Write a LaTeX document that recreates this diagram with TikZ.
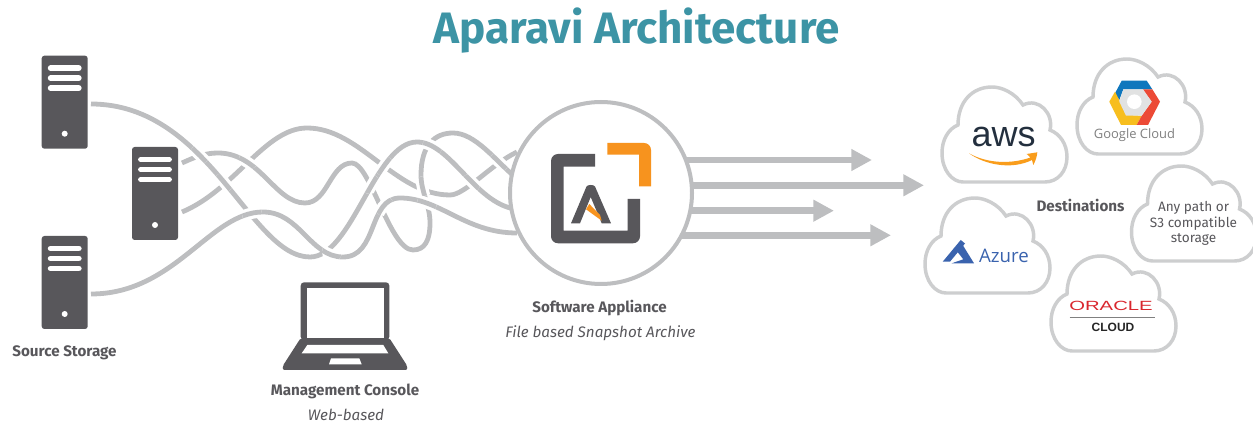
\documentclass[tikz,border=0pt]{standalone}
\usepackage{fontspec}
\setmainfont{Fira Sans}
\newfontfamily\lightfont{Open Sans}
\newfontfamily\arialfont{Liberation Sans}
\usetikzlibrary{arrows.meta,calc}
\definecolor{darkicon}{HTML}{58575B}
\definecolor{strandgray}{HTML}{BDBEC0}
\definecolor{cloudgray}{HTML}{CDCECF}
\definecolor{teal1}{HTML}{3D94A5}
\definecolor{orange1}{HTML}{F7931E}
\definecolor{awsdark}{HTML}{232F3E}
\definecolor{awsorange}{HTML}{F99D1C}
\definecolor{gblue}{HTML}{0F77BD}
\definecolor{gyellow}{HTML}{F7BE1E}
\definecolor{gred}{HTML}{EC4A36}
\definecolor{ggray}{HTML}{E1E2E2}
\definecolor{azureblue}{HTML}{3A63AE}
\definecolor{oraclered}{HTML}{D9272E}
\tikzset{
  strandline/.style={draw=strandgray,line width=3.6pt},
  strandhalo/.style={draw=white,line width=8.5pt},
  flow/.style={draw=strandgray,line width=5pt,-{Triangle[length=15.5pt,width=15.5pt]}},
  serverbox/.style={rectangle,fill=darkicon,rounded corners=2pt,minimum width=34.5pt,minimum height=69.75pt,inner sep=0pt,outer sep=0pt},
  hubnode/.style={circle,draw=strandgray,fill=white,line width=3pt,minimum size=136.5pt,inner sep=0pt},
  cloudline/.style={draw=cloudgray,line width=2.6pt,fill=white},
  boldlabel/.style={font=\bfseries\fontsize{11.4}{13}\selectfont,text=darkicon,inner sep=0pt},
  itlabel/.style={font=\itshape\fontsize{11.4}{13}\selectfont,text=darkicon,inner sep=0pt},
}
\newcommand\strandA{(91,104) .. controls (210,104) and (250,257) .. (310,257) .. controls (352,257) and (375,142) .. (417,142) .. controls (450,142) and (475,203) .. (515,209)}
\newcommand\strandB{(91,294) .. controls (175,294) and (210,212) .. (263,212) .. controls (300,212) and (310,257) .. (343,257) .. controls (378,257) and (368,198) .. (400,198) .. controls (440,198) and (465,233) .. (517,233)}
\newcommand\strandC{(182,163) .. controls (195,157) and (205,153) .. (218,153) .. controls (260,153) and (275,203) .. (305,203) .. controls (328,203) and (330,163) .. (352,163) .. controls (370,163) and (390,250) .. (413,250) .. controls (425,250) and (430,240) .. (430,223) .. controls (430,205) and (421,192) .. (421,175) .. controls (421,145) and (435,133) .. (453,133) .. controls (475,133) and (495,160) .. (515,177)}
\newcommand\strandD{(182,212) .. controls (235,190) and (265,128) .. (307,128) .. controls (360,128) and (395,195) .. (450,195) .. controls (465,195) and (490,165) .. (517,152)}
\newcommand\serverdetails[1]{%
  \begin{scope}[shift={(#1)}]
    \foreach \yy in {-34,-24,-14}{\draw[white,line width=4.4pt,line cap=round] (-14,\yy) -- (14,\yy);}
    \fill[white] (0,31.5) circle (3);
  \end{scope}}
\newcommand\cloudat[2]{%
  \begin{scope}[shift={(#1,#2)}]
    \draw[cloudline] (21,95) -- (103,95) .. controls (116,95) and (125,84) .. (125,70) .. controls (125,57) and (118,47) .. (108,43) .. controls (112,27) and (97,10) .. (81,18) .. controls (73,6) and (60,0) .. (50,0) .. controls (30,0) and (16,15) .. (16,38) .. controls (6,42) and (0,53) .. (0,66) .. controls (0,83) and (10,95) .. (21,95) -- cycle;
  \end{scope}}
\begin{document}
\begin{tikzpicture}[x=0.75pt,y=-0.75pt]
\useasboundingbox (0,0) rectangle (1253,423);
% title
\node[font=\bfseries\fontsize{33}{36}\selectfont,text=teal1,inner sep=0pt] (title) at (636.5,31) {Aparavi Architecture};
% strands
\draw[strandline] \strandA;
\draw[strandline] \strandB;
\draw[strandline] \strandC;
\draw[strandline] \strandD;
\foreach \cx/\cy/\st in {200/154/A,223/183/A,249/159/C,252/214/B,332/252/B,384/166/A,370/184/A,384/206/B,427/203/B,424/186/C,432/147/A,470/184/A,499/162/C}{
  \begin{scope}
    \clip (\cx,\cy) circle (10);
    \draw[strandhalo] \csname strand\st\endcsname;
    \draw[strandline] \csname strand\st\endcsname;
  \end{scope}
}
% flows
\coordinate (f1s) at (640,160); \coordinate (f1e) at (872,160);
\coordinate (f2s) at (640,185.3); \coordinate (f2e) at (924,185.3);
\coordinate (f3s) at (640,210.7); \coordinate (f3e) at (834,210.7);
\coordinate (f4s) at (640,235.3); \coordinate (f4e) at (891,235.3);
\draw[flow] (f1s) -- (f1e);
\draw[flow] (f2s) -- (f2e);
\draw[flow] (f3s) -- (f3e);
\draw[flow] (f4s) -- (f4e);
% hub
\node[hubnode] (hub) at (601,193) {};
\fill[darkicon] (595,154) -- (558,154) arc[start angle=270,end angle=180,radius=7] -- (551,236.3) arc[start angle=180,end angle=90,radius=7] -- (633,243.3) arc[start angle=90,end angle=0,radius=7] -- (640,199) -- (627.5,199) -- (627.5,230.7) -- (563.5,230.7) -- (563.5,166.7) -- (595,166.7) -- cycle;
\fill[orange1] (607.3,143) -- (644,143) arc[start angle=270,end angle=360,radius=7] -- (651,186.3) -- (639,186.3) -- (639,154.7) -- (607.3,154.7) -- cycle;
\fill[darkicon] (571,223.3) -- (586.5,186.5) .. controls (587.5,184.5) and (594,184.5) .. (595,186.5) -- (611,223.3) -- (601.7,223.3) -- (590.7,197) -- (580,223.3) -- cycle;
\fill[orange1] (586,209.3) -- (589.3,204) -- (600,215) -- (601.7,220.7) -- cycle;
% servers
\node[serverbox] (srvA) at (64.7,102.2) {};
\node[serverbox] (srvB) at (155,193.5) {};
\node[serverbox] (srvC) at (64.7,282.5) {};
\serverdetails{srvA}
\serverdetails{srvB}
\serverdetails{srvC}
% laptop
\fill[darkicon,rounded corners=2.5pt] (300.7,340) -- (300.7,282.3) -- (389.3,282.3) -- (389.3,340) -- cycle;
\fill[darkicon,rounded corners=1.5pt] (300.7,338) -- (389.3,338) -- (407.3,366) -- (407.3,370) -- (282.7,370) -- (282.7,366) -- cycle;
\fill[white] (306.7,287.7) rectangle (384,337.7);
\fill[white] (307.3,345) -- (383.3,345) -- (388.3,353.3) -- (301.7,353.3) -- cycle;
\fill[white] (331,358.3) -- (359.3,358.3) -- (361.7,364.3) -- (329,364.3) -- cycle;
% labels
\node[boldlabel] (lsrc) at (64.5,353) {Source Storage};
\node[boldlabel] (lmgmt) at (345,391.5) {Management Console};
\node[itlabel] (lweb) at (346,415) {Web-based};
\node[boldlabel] (lsoft) at (599.5,308) {Software Appliance};
\node[itlabel] (lfile) at (600.5,333) {File based Snapshot Archive};
\node[boldlabel] (ldest) at (1080.5,205.5) {Destinations};
% clouds
\cloudat{942}{87}
\cloudat{1077}{59}
\cloudat{925}{198}
\cloudat{1051}{256}
\cloudat{1131.5}{166}
% aws
\node[font=\arialfont\fontsize{27}{27}\selectfont,text=awsdark,inner sep=0pt] (aws) at (1003.5,136.5) {aws};
\fill[awsorange] (969,153.3) .. controls (985,165) and (1012,170) .. (1032,160) -- (1033.3,165) .. controls (1036,160) and (1037,156) .. (1037.3,152.3) -- (1026.7,154) -- (1030.5,157.5) .. controls (1012,164) and (988,164) .. (969,153.3) -- cycle;
% google
\fill[gblue] (1121.7,80.7) -- (1146.7,80.7) -- (1152.3,89.3) -- (1123.3,89.3) -- (1119.3,100) -- (1115,93.3) -- cycle;
\fill[gyellow] (1109.3,101.7) -- (1115,91.7) -- (1120,101.7) -- (1128.3,115) -- (1141.7,115.7) -- (1136.7,125) -- (1121,125) -- cycle;
\fill[gred] (1142.7,89.3) -- (1152.3,89.3) -- (1160,101.7) -- (1148,125) -- (1136.7,125) -- (1141.7,115.7) -- (1151.7,101.7) -- cycle;
\fill[ggray] (1123.3,89.3) -- (1143,89.3) -- (1151.7,101.7) -- (1141.7,115.7) -- (1126,115.7) -- (1119.3,101.7) -- cycle;
\fill[white] (1134.3,101.7) circle (7.3);
\node[font=\lightfont\fontsize{9.7}{12}\selectfont,text=gray,inner sep=0pt] (gcloud) at (1134.5,135) {Google Cloud};
% azure
\fill[azureblue] (942.7,261.7) -- (960.7,240) -- (965,243.5) -- (950,261.7) -- cycle;
\fill[azureblue] (962.7,245) -- (974,263.3) -- (951.7,263.3) -- (963.3,259.3) -- (957.3,251.7) -- cycle;
\node[font=\lightfont\fontsize{14}{16}\selectfont,text=azureblue,inner sep=0pt] (azure) at (1004,255.5) {Azure};
% oracle
\node[font=\arialfont\fontsize{10}{12}\selectfont,text=oraclered,inner sep=0pt,xscale=1.52] (oracle) at (1111,306) {ORACLE};
\draw[gray,line width=0.5pt] (1069.5,317.3) -- (1155,317.3);
\node[font=\arialfont\bfseries\fontsize{9}{11}\selectfont,text=black!85,inner sep=0pt] (ocloud) at (1113,327.5) {CLOUD};
% any path
\node[font=\fontsize{10.2}{11.7}\selectfont,text=darkicon,align=center,inner sep=0pt] (anyp) at (1193.5,223.5) {Any path or\\S3 compatible\\storage};
\end{tikzpicture}
\end{document}
